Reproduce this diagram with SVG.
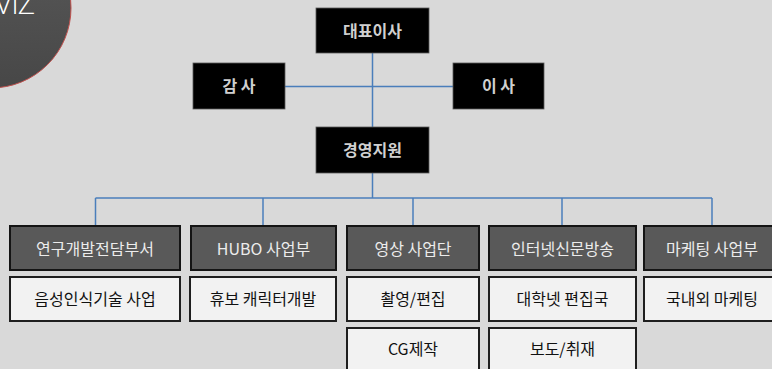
<svg xmlns="http://www.w3.org/2000/svg" width="772" height="369" viewBox="0 0 772 369">
<defs>
<linearGradient id="cg" x1="0" y1="0" x2="0" y2="1">
<stop offset="0" stop-color="#5a5a5a"/>
<stop offset="1" stop-color="#474747"/>
</linearGradient>
<style>
.t{font-family:"Noto Sans CJK KR","Noto Sans",sans-serif;text-anchor:middle}
.top rect{fill:#000;stroke:#5a5a5a;stroke-width:0.8}
.top text{fill:#d0d0d0;font-size:16px;font-weight:bold}
.l2 rect{fill:#595959;stroke:#141414;stroke-width:2}
.l2 text{fill:#ececec;font-size:16px}
.l3 rect{fill:#f2f2f2;stroke:#1e1e1e;stroke-width:2}
.l3 text{fill:#111;font-size:16px}
.conn line{stroke:#4a7ebb;stroke-width:1.5;fill:none}
</style>
</defs>
<rect width="772" height="369" fill="#d9d9d9"/>
<g id="logo">
<circle cx="-9" cy="8" r="80" fill="url(#cg)" stroke="#c0504d" stroke-width="1"/>
<text x="34" y="14" font-family="'Open Sans','Noto Sans',sans-serif" font-size="30" font-weight="300" fill="#fff" text-anchor="end" letter-spacing="-1">VIZ</text>
</g>
<g class="conn" id="connectors">
<line x1="372.5" y1="53" x2="372.5" y2="127"/>
<line x1="285" y1="86.5" x2="453" y2="86.5"/>
<line x1="372.5" y1="173" x2="372.5" y2="198"/>
<line x1="95.5" y1="198" x2="712" y2="198"/>
<line x1="95.5" y1="198" x2="95.5" y2="225"/>
<line x1="263" y1="198" x2="263" y2="225"/>
<line x1="413" y1="198" x2="413" y2="225"/>
<line x1="562" y1="198" x2="562" y2="225"/>
<line x1="712" y1="198" x2="712" y2="225"/>
</g>
<g class="t top">
<g id="ceo"><rect x="316" y="8" width="113" height="45"/><text x="372.5" y="37">대표이사</text></g>
<g id="auditor"><rect x="193" y="63" width="92" height="46"/><text x="239" y="92">감 사</text></g>
<g id="director"><rect x="453" y="63" width="91" height="46"/><text x="498.5" y="92">이 사</text></g>
<g id="support"><rect x="316" y="127" width="113" height="46"/><text x="372.5" y="156">경영지원</text></g>
</g>
<g class="t l2">
<g id="rnd"><rect x="10" y="226" width="170" height="44"/><text x="95" y="255">연구개발전담부서</text></g>
<g id="hubo"><rect x="191" y="226" width="145" height="44"/><text x="263.5" y="255">HUBO 사업부</text></g>
<g id="video"><rect x="347" y="226" width="132" height="44"/><text x="413" y="255">영상 사업단</text></g>
<g id="news"><rect x="489" y="226" width="147" height="44"/><text x="562.5" y="255">인터넷신문방송</text></g>
<g id="marketing"><rect x="644" y="226" width="140" height="44"/><text x="712" y="255">마케팅 사업부</text></g>
</g>
<g class="t l3">
<g id="voice"><rect x="10" y="277" width="170" height="44"/><text x="95" y="305">음성인식기술 사업</text></g>
<g id="character"><rect x="190" y="277" width="146" height="44"/><text x="263" y="305">휴보 캐릭터개발</text></g>
<g id="shoot"><rect x="347" y="277" width="132" height="44"/><text x="413" y="305">촬영/편집</text></g>
<g id="desk"><rect x="489" y="277" width="147" height="44"/><text x="562.5" y="305">대학넷 편집국</text></g>
<g id="domestic"><rect x="644" y="277" width="140" height="44"/><text x="712" y="305">국내외 마케팅</text></g>
<g id="cg"><rect x="347" y="328" width="132" height="50"/><text x="413" y="355">CG제작</text></g>
<g id="report"><rect x="489" y="328" width="147" height="50"/><text x="562.5" y="355">보도/취재</text></g>
</g>
</svg>
